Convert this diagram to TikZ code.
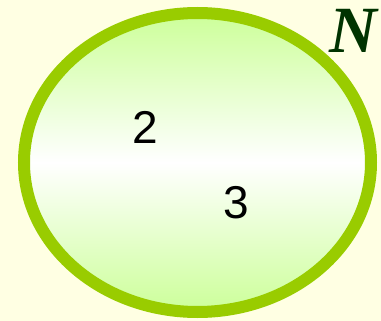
\documentclass[tikz,border=0pt]{standalone}
\usepackage{fontspec}
\setmainfont{Liberation Serif}
\newfontfamily\arialfont{Liberation Sans}
\definecolor{bgyellow}{HTML}{FFFFE3}
\definecolor{rimgreen}{HTML}{99CC00}
\definecolor{fillgreen}{HTML}{CCFF99}
\definecolor{ndark}{HTML}{003300}
\tikzset{
  setring/.style={draw=rimgreen, line width=12pt, top color=fillgreen, bottom color=fillgreen, middle color=white},
  digit/.style={font=\arialfont\fontsize{46}{46}\selectfont, text=black, inner sep=0pt},
  setname/.style={font=\fontsize{66}{66}\selectfont\bfseries\itshape, text=ndark, inner sep=0pt}
}
\begin{document}
\begin{tikzpicture}[x=1pt,y=-1pt]
\fill[bgyellow] (0,0) rectangle (381,321);
\useasboundingbox (0,0) rectangle (381,321);
\path[setring] (197.5,162.5) ellipse [x radius=173.5, y radius=149.5];
\node[digit] (two) at (145,127) {2};
\node[digit] (three) at (236,203) {3};
\node[setname] (n) at (353,31) {N};
\end{tikzpicture}
\end{document}
